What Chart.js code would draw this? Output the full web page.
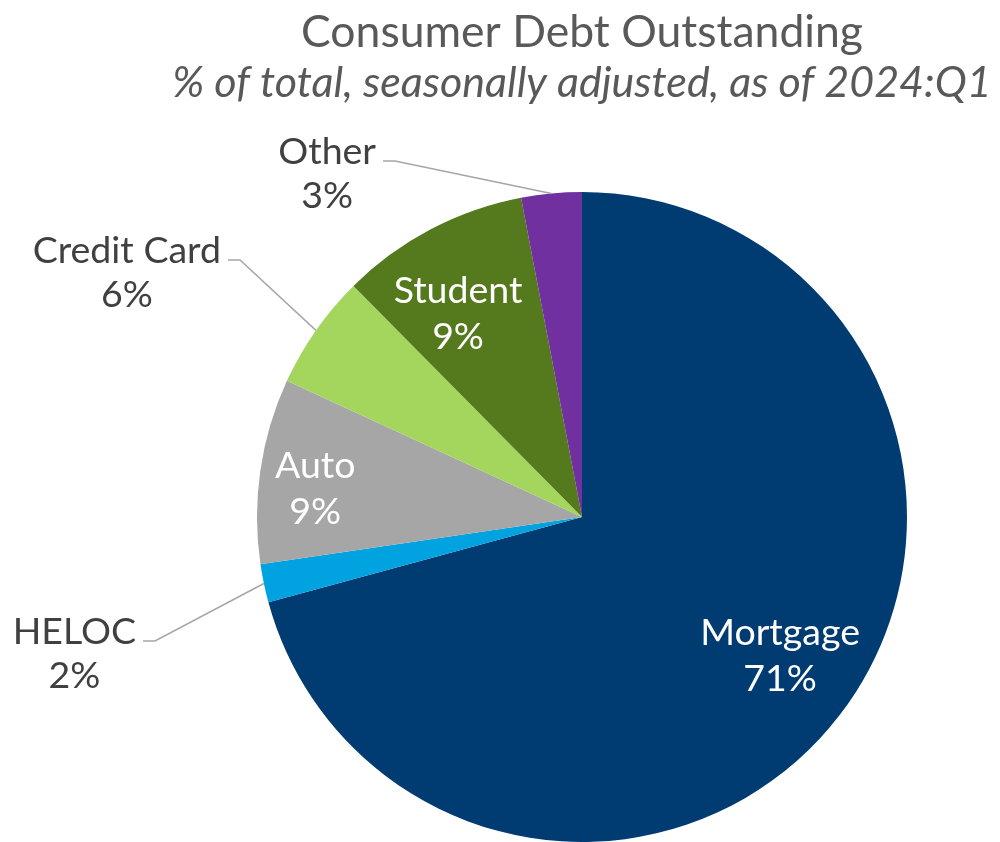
<!DOCTYPE html>
<html>
<head>
<meta charset="utf-8">
<script src="https://cdn.jsdelivr.net/npm/chart.js@4"></script>
<style>
  html, body { margin: 0; padding: 0; background: #fff; }
  #wrap { width: 1000px; height: 842px; position: relative; }
</style>
</head>
<body>
<div id="wrap"><canvas id="debtChart" width="1000" height="842"></canvas></div>
<script>
// Consumer debt shares (% of total)
const categories = ['Mortgage', 'HELOC', 'Auto', 'Credit Card', 'Student', 'Other'];
const shares = [70.7, 1.9, 9.2, 5.7, 9.4, 3.0];
const colors = ['#003c71', '#00a3e0', '#a6a6a6', '#a4d65e', '#557a1e', '#7030a0'];

const titleText = 'Consumer Debt Outstanding';
const subtitleText = '% of total, seasonally adjusted, as of 2024:Q1';

// how each slice gets labelled: inside the slice (with a nudge), or outside with a leader line
const labelStyle = [
    { inside: true, r: 0.74, dx: 7, dy: -8 },
    { inside: false, elbow: [155, 641] },
    { inside: true, r: 0.82, dx: -3, dy: 9 },
    { inside: false, elbow: [240, 260] },
    { inside: true, r: 0.74, dx: -12, dy: 9 },
    { inside: false, elbow: [395, 161] }
];

const FONT = 'Lato, "Open Sans", sans-serif';

// Draw title and slice labels on top of the pie
const labelPlugin = {
    id: 'pieLabels',
    afterDraw(chart) {
        const ctx = chart.ctx;
        const meta = chart.getDatasetMeta(0);
        const total = shares.reduce((acc, v) => acc + v, 0);

        ctx.save();
        const cx = meta.data[0].x;

        // titles centred over the pie
        ctx.textAlign = 'center';
        ctx.textBaseline = 'alphabetic';
        ctx.fillStyle = '#595959';
        ctx.font = '44.5px ' + FONT;
        ctx.fillText(titleText, cx, 47);
        ctx.font = 'italic 43px ' + FONT;
        ctx.fillText(subtitleText, cx, 97);

        meta.data.forEach((arc, i) => {
            const mid = (arc.startAngle + arc.endAngle) / 2;
            const pct = Math.round(shares[i] / total * 100) + '%';
            const st = labelStyle[i];
            ctx.font = '37.5px ' + FONT;
            ctx.textBaseline = 'middle';
            ctx.textAlign = 'center';
            if (st.inside) {
                const x = arc.x + Math.cos(mid) * arc.outerRadius * st.r + st.dx;
                const y = arc.y + Math.sin(mid) * arc.outerRadius * st.r + st.dy;
                ctx.fillStyle = '#ffffff';
                ctx.fillText(categories[i], x, y - 22);
                ctx.fillText(pct, x, y + 24);
            } else {
                const ex = arc.x + Math.cos(mid) * arc.outerRadius;
                const ey = arc.y + Math.sin(mid) * arc.outerRadius;
                const [bx, by] = st.elbow;
                ctx.strokeStyle = '#a6a6a6';
                ctx.lineWidth = 1.5;
                ctx.beginPath();
                ctx.moveTo(ex, ey);
                ctx.lineTo(bx, by);
                ctx.lineTo(bx - 12, by);
                ctx.stroke();
                const w = ctx.measureText(categories[i]).width;
                const tx = bx - 19 - w / 2;
                ctx.fillStyle = '#404040';
                ctx.fillText(categories[i], tx, by - 9);
                ctx.fillText(pct, tx, by + 35);
            }
        });
        ctx.restore();
    }
};

new Chart(document.getElementById('debtChart'), {
    type: 'pie',
    data: {
        labels: categories,
        datasets: [{
            data: shares,
            backgroundColor: colors,
            borderWidth: 0
        }]
    },
    options: {
        responsive: false,
        animation: false,
        layout: { padding: { top: 192, bottom: 0, left: 257, right: 93 } },
        plugins: {
            legend: { display: false },
            tooltip: { enabled: false }
        }
    },
    plugins: [labelPlugin]
});
</script>
</body>
</html>
